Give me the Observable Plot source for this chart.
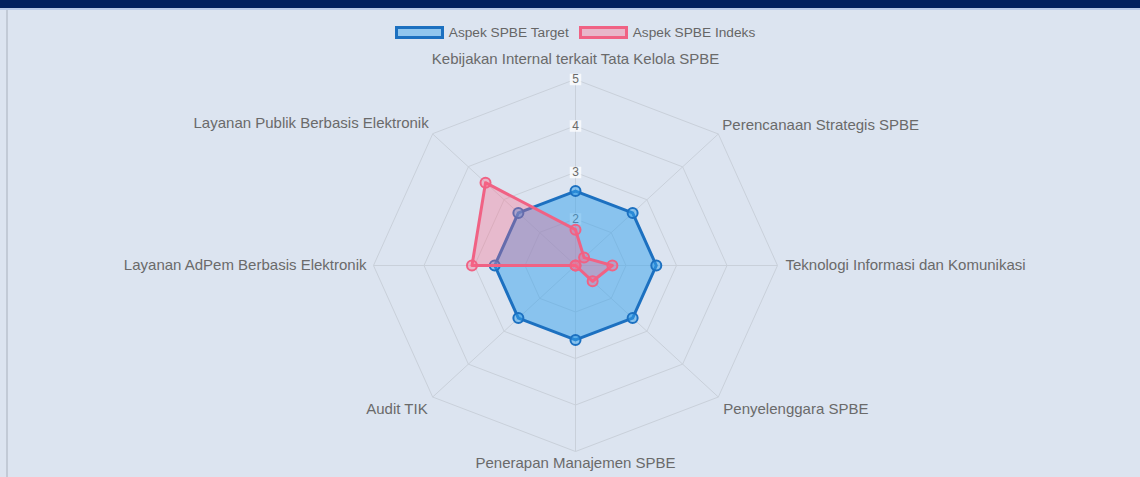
<!DOCTYPE html>
<html>
<head>
<meta charset="utf-8">
<script src="https://cdn.jsdelivr.net/npm/d3@7"></script>
<script src="https://cdn.jsdelivr.net/npm/@observablehq/plot@0.6"></script>
<style>
  html, body { margin: 0; padding: 0; background: #dce4f0; width: 1140px; height: 477px; overflow: hidden; font-family: "Liberation Sans", Arial, sans-serif; }
  #band { height: 8px; background: #00205e; }
  #bandline { height: 2px; background: #b6c9e6; }
  #wrap { position: relative; }
  #leftline { position: absolute; left: 6px; top: 0; width: 2px; height: 467px; background: #c2cad6; }
  #legend { height: 38px; display: flex; justify-content: center; align-items: flex-start; padding-left: 10px; box-sizing: border-box; font-size: 13.7px; color: #666; }
  .item { display: flex; align-items: center; margin: 15px 5px 0 5px; }
  .box { width: 43px; height: 7px; border-width: 3px; border-style: solid; margin-right: 5px; }
  svg { display: block; }
</style>
</head>
<body>
<div id="band"></div>
<div id="bandline"></div>
<div id="wrap">
  <div id="leftline"></div>
  <div id="legend"></div>
  <div id="chart"></div>
</div>
<script>
// ---- data ----
const categories = [
  "Kebijakan Internal terkait Tata Kelola SPBE",
  "Perencanaan Strategis SPBE",
  "Teknologi Informasi dan Komunikasi",
  "Penyelenggara SPBE",
  "Penerapan Manajemen SPBE",
  "Audit TIK",
  "Layanan AdPem Berbasis Elektronik",
  "Layanan Publik Berbasis Elektronik"
];
const seriesNames = ["Aspek SPBE Target", "Aspek SPBE Indeks"];
const targetValues = [2.6, 2.6, 2.6, 2.6, 2.6, 2.6, 2.6, 2.6];
const indeksValues = [1.77, 1.24, 1.73, 1.48, 1.0, 1.0, 3.05, 3.52];
const tickValues = [2, 3, 4, 5];
const scaleMin = 1, scaleMax = 5;

// ---- styles ----
const blueStroke = "rgb(28,112,192)";
const blueFill = "rgba(54,162,235,0.5)";
const pinkStroke = "rgb(240,98,132)";
const pinkFill = "rgba(255,99,132,0.32)";
const gridColor = "#c9d0da";
const textColor = "#6a6a6a";

// legend (HTML)
const legend = document.getElementById("legend");
[[seriesNames[0], blueStroke, "rgba(54,162,235,0.45)"], [seriesNames[1], pinkStroke, "rgba(255,99,132,0.35)"]].forEach(([name, s, f]) => {
  const it = document.createElement("div"); it.className = "item";
  const b = document.createElement("div"); b.className = "box"; b.style.borderColor = s; b.style.background = f;
  const t = document.createElement("span"); t.textContent = name;
  it.appendChild(b); it.appendChild(t); legend.appendChild(it);
});

// ---- geometry helpers ----
const n = categories.length;
const ang = i => i * 2 * Math.PI / n;
const R = scaleMax - scaleMin;
const polar = (v, i) => ({x: (v - scaleMin) * Math.sin(ang(i)), y: (v - scaleMin) * Math.cos(ang(i))});

const gridRings = tickValues.flatMap(t => categories.map((c, i) => ({...polar(t, i), ring: t})));
const spokes = categories.map((c, i) => ({x1: 0, y1: 0, x2: polar(scaleMax, i).x, y2: polar(scaleMax, i).y}));
const targetPts = targetValues.map((v, i) => ({...polar(v, i), cat: categories[i]}));
const indeksPts = indeksValues.map((v, i) => ({...polar(v, i), cat: categories[i]}));
const tickPts = tickValues.map(t => ({x: 0, y: t - scaleMin, label: String(t)}));

// label placement per direction (anchor, dx, dy)
const labelStyle = [
  ["middle", 0, -20],
  ["start", 4, -9],
  ["start", 8, 0],
  ["start", 5, 12],
  ["middle", 0, 12],
  ["end", -5, 12],
  ["end", -7, 0],
  ["end", -4, -11]
];
const labelPts = categories.map((c, i) => ({...polar(scaleMax, i), label: c, i}));

const W = 1140, H = 429;
const cx = 575, cy = 217, rx = 202, ry = 186;

const marks = [
  Plot.line(gridRings, {x: "x", y: "y", z: "ring", curve: "linear-closed", stroke: gridColor, strokeWidth: 1}),
  Plot.link(spokes, {x1: "x1", y1: "y1", x2: "x2", y2: "y2", stroke: gridColor, strokeWidth: 1}),
  Plot.dot(tickPts, {x: "x", y: "y", symbol: "square", r: 6.5, fill: "rgba(255,255,255,0.75)", stroke: "none"}),
  Plot.text(tickPts, {x: "x", y: "y", text: "label", fill: textColor, fontSize: 12}),
  Plot.line(targetPts, {x: "x", y: "y", curve: "linear-closed", fill: blueFill, stroke: blueStroke, strokeWidth: 3}),
  Plot.dot(targetPts, {x: "x", y: "y", r: 5, fill: "rgba(54,162,235,0.5)", stroke: blueStroke, strokeWidth: 2}),
  Plot.line(indeksPts, {x: "x", y: "y", curve: "linear-closed", fill: pinkFill, stroke: pinkStroke, strokeWidth: 3}),
  Plot.dot(indeksPts, {x: "x", y: "y", r: 5, fill: "rgba(255,99,132,0.35)", stroke: pinkStroke, strokeWidth: 2})
];
labelStyle.forEach(([anchor, dx, dy], i) => {
  marks.push(Plot.text(labelPts.filter(d => d.i === i), {x: "x", y: "y", text: "label", textAnchor: anchor, dx, dy, fill: textColor, fontSize: 15}));
});

const chart = Plot.plot({
  width: W, height: H,
  margin: 0,
  style: {background: "transparent", fontFamily: "'Liberation Sans', Arial, sans-serif", overflow: "visible"},
  x: {domain: [-R, R], range: [cx - rx, cx + rx], axis: null},
  y: {domain: [-R, R], range: [cy + ry, cy - ry], axis: null},
  marks
});
document.getElementById("chart").appendChild(chart);
</script>
</body>
</html>
